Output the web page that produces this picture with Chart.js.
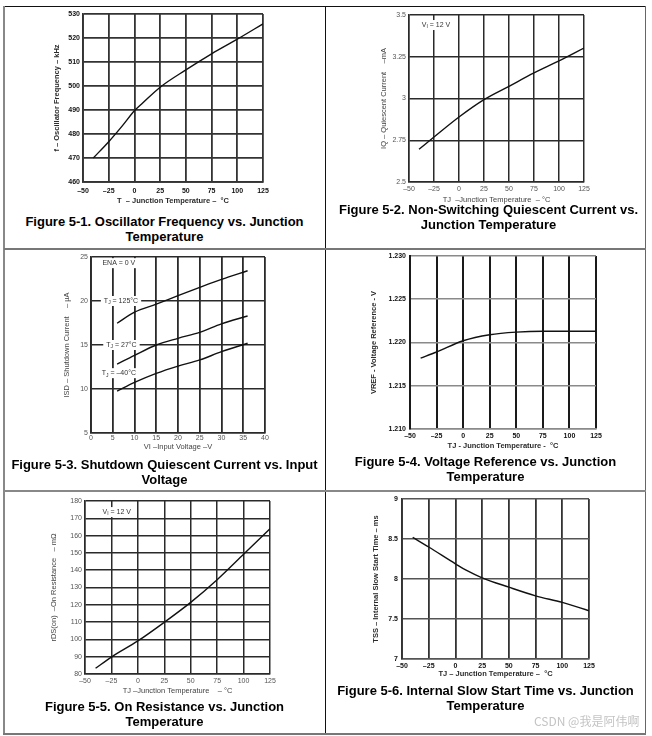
<!DOCTYPE html>
<html>
<head>
<meta charset="utf-8">
<script src="https://cdn.jsdelivr.net/npm/chart.js@4.4.1/dist/chart.umd.min.js"></script>
<style>
  body { margin: 0; background: #fff; width: 652px; height: 736px; position: relative; overflow: hidden;
         font-family: "Liberation Sans", Arial, sans-serif; }
  canvas { position: absolute; }
  .ln { position: absolute; }
  .cap { position: absolute; text-align: center; font-weight: bold; font-size: 13px; line-height: 15px; color: #000; }
  .wm { position: absolute; left: 534px; top: 712px; font-family: "Noto Sans CJK SC", sans-serif; font-size: 12px; color: #c4c4c4; }
</style>
</head>
<body>
<canvas id="c1"></canvas><canvas id="c2"></canvas><canvas id="c3"></canvas>
<canvas id="c4"></canvas><canvas id="c5"></canvas><canvas id="c6"></canvas>

<div class="cap" style="left:4px;width:321px;top:214px">Figure 5-1. Oscillator Frequency vs. Junction<br>Temperature</div>
<div class="cap" style="left:326px;width:325px;top:202px">Figure 5-2. Non-Switching Quiescent Current vs.<br>Junction Temperature</div>
<div class="cap" style="left:4px;width:321px;top:457px">Figure 5-3. Shutdown Quiescent Current vs. Input<br>Voltage</div>
<div class="cap" style="left:326px;width:319px;top:454px">Figure 5-4. Voltage Reference vs. Junction<br>Temperature</div>
<div class="cap" style="left:4px;width:321px;top:699px">Figure 5-5. On Resistance vs. Junction<br>Temperature</div>
<div class="cap" style="left:326px;width:319px;top:683px">Figure 5-6. Internal Slow Start Time vs. Junction<br>Temperature</div>
<div class="wm">CSDN @我是阿伟啊</div>

<!-- table rules -->
<div class="ln" style="left:4px;top:6px;width:642px;height:1px;background:#111"></div>
<div class="ln" style="left:3px;top:6px;width:2px;height:729px;background:#888"></div>
<div class="ln" style="left:325px;top:6px;width:1px;height:729px;background:#111"></div>
<div class="ln" style="left:645px;top:6px;width:1px;height:729px;background:#666"></div>
<div class="ln" style="left:4px;top:248px;width:642px;height:2px;background:#777"></div>
<div class="ln" style="left:4px;top:490px;width:642px;height:2px;background:#888"></div>
<div class="ln" style="left:3px;top:733px;width:643px;height:2px;background:#777"></div>

<script>
// shared x ticks (junction temperature, °C)
const tempTicks = [-50, -25, 0, 25, 50, 75, 100, 125];

// Fig 5-1 oscillator frequency
const oscTemp = [-40, -25, -12, 0, 8, 25, 50, 75, 100, 125];
const oscFreq = [470, 476.8, 483.3, 489.7, 492.9, 499.5, 506.7, 513.4, 519.5, 525.9];
const freqTicks = [460, 470, 480, 490, 500, 510, 520, 530];

// Fig 5-2 quiescent current
const iqTemp = [-40, -25, 0, 25, 50, 75, 100, 125];
const iqCurrent = [2.696, 2.769, 2.889, 2.993, 3.073, 3.153, 3.225, 3.302];
const iqTicks = [2.5, 2.75, 3, 3.25, 3.5];

// Fig 5-3 shutdown current
const vinVolts = [6, 10, 15, 20, 25, 30, 36];
const isd125 = [17.47, 18.73, 19.64, 20.6, 21.54, 22.45, 23.44];
const isd27 = [12.83, 13.82, 15.0, 15.76, 16.44, 17.4, 18.3];
const isdMinus40 = [9.75, 10.74, 11.77, 12.6, 13.3, 14.24, 15.2];
const vinTicks = [0, 5, 10, 15, 20, 25, 30, 35, 40];
const isdTicks = [5, 10, 15, 20, 25];

// Fig 5-4 voltage reference
const vrefTemp = [-40, -25, 0, 25, 50, 75, 100, 125];
const vref = [1.2182, 1.2189, 1.2202, 1.2209, 1.2212, 1.2213, 1.2213, 1.2213];
const vrefTicks = [1.210, 1.215, 1.220, 1.225, 1.230];

// Fig 5-5 on resistance
const rdsTemp = [-40, -25, 0, 25, 50, 75, 100, 125];
const rdsOn = [83.3, 89.8, 99.1, 109.9, 121.4, 134.5, 149.2, 164.0];
const rdsTicks = [80, 90, 100, 110, 120, 130, 140, 150, 160, 170, 180];

// Fig 5-6 slow start time
const tssTemp = [-40, -25, 0, 10, 25, 50, 75, 100, 125];
const tssMs = [8.52, 8.40, 8.19, 8.11, 8.015, 7.898, 7.79, 7.707, 7.603];
const tssTicks = [7, 7.5, 8, 8.5, 9];

const FAM = '"Liberation Sans", Arial, sans-serif';
const boldStyle = { weight: 'bold', tick: '#111', title: '#2a2a2a' };
const lightStyle = { weight: 'normal', tick: '#555', title: '#444' };

const dash = v => String(v).replace('-', '\u2013');

// text notes inside the plot, "{X}" marks a subscript
function notesPlugin(notes) {
  return {
    id: 'notes',
    afterDatasetsDraw(chart) {
      const ctx = chart.ctx, xs = chart.scales.x, ys = chart.scales.y;
      notes.forEach(n => {
        const parts = n.text.split(/\{([^}]*)\}/);
        const fonts = parts.map((p, i) => (i % 2 ? '5px ' : '7px ') + FAM);
        let w = 0;
        parts.forEach((p, i) => { ctx.font = fonts[i]; w += ctx.measureText(p).width; });
        const px = xs.getPixelForValue(n.x), py = ys.getPixelForValue(n.y);
        let x = px - w / 2;
        ctx.save();
        ctx.fillStyle = '#fff';
        ctx.fillRect(x - 3, py - 5, w + 6, 10);
        ctx.fillStyle = '#333';
        ctx.textBaseline = 'middle';
        parts.forEach((p, i) => {
          ctx.font = fonts[i];
          ctx.fillText(p, x, py + (i % 2 ? 2 : 0));
          x += ctx.measureText(p).width;
        });
        ctx.restore();
      });
    }
  };
}

function makeChart(id, g, cfg) {
  const [L, T, R, B] = g.plot;
  const cl = L - 48, ct = T - 10, cr = R + 14, cb = B + 30;
  const lh = 7.5 * 1.2;
  const canvas = document.getElementById(id);
  canvas.width = cr - cl;
  canvas.height = cb - ct;
  canvas.style.left = cl + 'px';
  canvas.style.top = ct + 'px';
  const st = cfg.style;
  const tickFont = { family: FAM, size: 7, weight: st.weight };
  const titleFont = { family: FAM, size: 7.5, weight: st.weight };

  new Chart(canvas, {
    type: 'line',
    data: {
      datasets: cfg.series.map(s => ({
        data: s.x.map((v, i) => ({ x: v, y: s.y[i] })),
        borderColor: '#111',
        borderWidth: 1.4,
        pointRadius: 0,
        cubicInterpolationMode: 'monotone',
        fill: false
      }))
    },
    options: {
      responsive: false,
      animation: false,
      devicePixelRatio: 1,
      layout: { padding: { top: 10, right: 14, left: 0, bottom: 0 } },
      plugins: { legend: { display: false }, tooltip: { enabled: false } },
      scales: {
        x: {
          type: 'linear',
          min: cfg.xTicks[0],
          max: cfg.xTicks[cfg.xTicks.length - 1],
          afterBuildTicks: s => { s.ticks = cfg.xTicks.map(v => ({ value: v })); },
          afterFit: s => { s.height = 30; },
          grid: { color: cfg.xGrid[0], lineWidth: cfg.xGrid[1], drawTicks: false },
          border: { display: true, color: cfg.yGrid[0], width: cfg.yGrid[1] },
          ticks: { font: tickFont, color: st.tick, padding: g.xPad, maxRotation: 0, autoSkip: false,
                   callback: v => dash(v) },
          title: { display: true, text: cfg.xTitle, font: titleFont, color: st.title,
                   padding: { top: 0, bottom: cb - g.xTitleY - lh / 2 } }
        },
        y: {
          min: cfg.yTicks[0],
          max: cfg.yTicks[cfg.yTicks.length - 1],
          afterBuildTicks: s => { s.ticks = cfg.yTicks.map(v => ({ value: v })); },
          afterFit: s => { s.width = 48; },
          grid: { color: cfg.yGrid[0], lineWidth: cfg.yGrid[1], drawTicks: false },
          border: { display: true, color: cfg.xGrid[0], width: cfg.xGrid[1] },
          ticks: { font: tickFont, color: st.tick, padding: g.yPad, autoSkip: false,
                   callback: cfg.yFmt || (v => String(v)) },
          title: { display: true, text: cfg.yTitle, font: titleFont, color: st.title,
                   padding: { top: g.yTitleX - lh / 2 - cl, bottom: 0 } }
        }
      }
    },
    plugins: [notesPlugin(cfg.notes || [])]
  });
}

makeChart('c1', { plot: [83, 14, 263, 182], yTitleX: 57, xTitleY: 201, xPad: 5, yPad: 3 }, {
  style: boldStyle,
  series: [{ x: oscTemp, y: oscFreq }],
  xTicks: tempTicks, yTicks: freqTicks,
  xGrid: ['#333', 1.8], yGrid: ['#333', 1.8],
  xTitle: 'T  \u2013 Junction Temperature \u2013  °C',
  yTitle: 'f \u2013 Oscillator Frequency \u2013 kHz'
});

makeChart('c2', { plot: [409, 15, 584, 182], yTitleX: 384, xTitleY: 200, xPad: 3, yPad: 3 }, {
  style: lightStyle,
  series: [{ x: iqTemp, y: iqCurrent }],
  xTicks: tempTicks, yTicks: iqTicks,
  xGrid: ['#2a2a2a', 1.5], yGrid: ['#2a2a2a', 1.5],
  xTitle: 'TJ  \u2013Junction Temperature  \u2013 °C',
  yTitle: 'IQ \u2013 Quiescent Current    \u2013mA',
  notes: [{ x: -23, y: 3.44, text: 'V{I} = 12 V' }]
});

makeChart('c3', { plot: [91, 257, 265, 433], yTitleX: 67, xTitleY: 447, xPad: 1, yPad: 3 }, {
  style: lightStyle,
  series: [{ x: vinVolts, y: isd125 }, { x: vinVolts, y: isd27 }, { x: vinVolts, y: isdMinus40 }],
  xTicks: vinTicks, yTicks: isdTicks,
  xGrid: ['#2a2a2a', 1.8], yGrid: ['#2a2a2a', 1.6],
  xTitle: 'VI \u2013Input Voltage \u2013V',
  yTitle: 'ISD \u2013 Shutdown Current    \u2013 µA',
  notes: [
    { x: 6.4, y: 24.3, text: 'ENA = 0 V' },
    { x: 6.9, y: 20, text: 'T{J} = 125°C' },
    { x: 7.0, y: 15, text: 'T{J} = 27°C' },
    { x: 6.4, y: 11.8, text: 'T{J} = \u201340°C' }
  ]
});

makeChart('c4', { plot: [410, 256, 596, 429], yTitleX: 374, xTitleY: 446, xPad: 3, yPad: 4 }, {
  style: boldStyle,
  series: [{ x: vrefTemp, y: vref }],
  xTicks: tempTicks, yTicks: vrefTicks,
  xGrid: ['#1a1a1a', 2], yGrid: ['#8a8a8a', 1.5],
  xTitle: 'TJ - Junction Temperature -  °C',
  yTitle: 'VREF - Voltage Reference - V',
  yFmt: v => v.toFixed(3)
});

makeChart('c5', { plot: [85, 501, 270, 674], yTitleX: 54, xTitleY: 691, xPad: 3, yPad: 3 }, {
  style: lightStyle,
  series: [{ x: rdsTemp, y: rdsOn }],
  xTicks: tempTicks, yTicks: rdsTicks,
  xGrid: ['#2a2a2a', 1.5], yGrid: ['#2a2a2a', 1.5],
  xTitle: 'TJ \u2013Junction Temperature    \u2013 °C',
  yTitle: 'rDS(on)  \u2013On Resistance   \u2013 m\u03a9',
  notes: [{ x: -20, y: 173.6, text: 'V{I} = 12 V' }]
});

makeChart('c6', { plot: [402, 499, 589, 659], yTitleX: 376, xTitleY: 674, xPad: 3, yPad: 4 }, {
  style: boldStyle,
  series: [{ x: tssTemp, y: tssMs }],
  xTicks: tempTicks, yTicks: tssTicks,
  xGrid: ['#333', 1.8], yGrid: ['#555', 1.6],
  xTitle: 'TJ \u2013 Junction Temperature \u2013  °C',
  yTitle: 'TSS \u2013 Internal Slow Start Time \u2013 ms'
});
</script>
</body>
</html>
